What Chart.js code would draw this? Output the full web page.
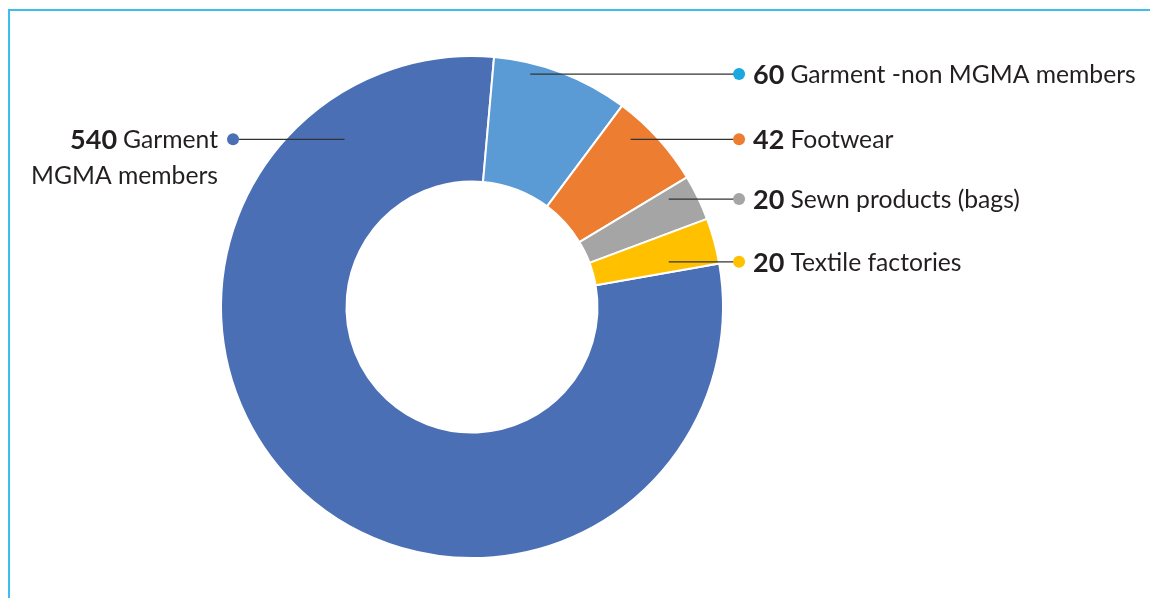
<!DOCTYPE html>
<html>
<head>
<meta charset="utf-8">
<script src="https://cdn.jsdelivr.net/npm/chart.js@4"></script>
<style>
  html, body { margin: 0; padding: 0; background: #fff; }
  #wrap { position: relative; width: 1150px; height: 598px; }
  #frame { position: absolute; left: 8px; top: 9px; right: 0; bottom: 0;
           border-left: 2px solid #3dbfee; border-top: 2px solid #3dbfee; }
  canvas { position: absolute; left: 0; top: 0; }
</style>
</head>
<body>
<div id="wrap">
  <div id="frame"></div>
  <canvas id="chart" width="1150" height="598"></canvas>
</div>
<script>
const categories = ['Garment MGMA members', 'Garment -non MGMA members', 'Footwear', 'Sewn products (bags)', 'Textile factories']
const counts = [540, 60, 42, 20, 20]
const sliceColors = ['#4a6fb5', '#5b9bd5', '#ed7d31', '#a5a5a5', '#ffc000']
const dotColors = ['#4a6fb5', '#1ba8e0', '#ed7d31', '#a5a5a5', '#ffc000']

// leader positions, in units of the outer radius from the centre
const leaders = [
  { y: -0.668, from: -0.508, dot: -0.952, side: 'left', lines: ['Garment', 'MGMA members'] },
  { y: -0.928, from: 0.232, dot: 1.064, side: 'right' },
  { y: -0.668, from: 0.632, dot: 1.064, side: 'right' },
  { y: -0.43, from: 0.784, dot: 1.064, side: 'right' },
  { y: -0.18, from: 0.784, dot: 1.064, side: 'right' }
]

const labelPlugin = {
  id: 'leaderLabels',
  afterDraw(chart) {
    const ctx = chart.ctx
    const meta = chart.getDatasetMeta(0)
    const boldFont = 'bold 27px Lato'
    const normFont = '24.7px Lato'
    meta.data.forEach((arc, i) => {
      const r = arc.outerRadius
      const L = leaders[i]
      const y = arc.y + L.y * r
      const x0 = arc.x + L.from * r
      const xd = arc.x + L.dot * r
      ctx.save()
      ctx.strokeStyle = '#333'
      ctx.lineWidth = 1.3
      ctx.beginPath()
      ctx.moveTo(x0, y)
      ctx.lineTo(xd, y)
      ctx.stroke()
      ctx.fillStyle = dotColors[i]
      ctx.beginPath()
      ctx.arc(xd, y, 6, 0, Math.PI * 2)
      ctx.fill()

      ctx.textBaseline = 'middle'
      ctx.fillStyle = '#231f20'
      const num = String(counts[i])
      if (L.side === 'right') {
        let tx = xd + 14
        ctx.font = boldFont
        ctx.textAlign = 'left'
        ctx.fillText(num, tx, y + 1)
        tx += ctx.measureText(num).width + 6
        ctx.font = normFont
        ctx.fillText(categories[i], tx, y + 1)
      } else {
        const right = xd - 15
        ctx.textAlign = 'right'
        ctx.font = normFont
        ctx.fillText(L.lines[0], right, y + 1)
        const w = ctx.measureText(L.lines[0]).width
        ctx.font = boldFont
        ctx.fillText(num, right - w - 6, y + 1)
        ctx.font = normFont
        ctx.fillText(L.lines[1], right, y + 37)
      }
      ctx.restore()
    })
  }
}

new Chart(document.getElementById('chart'), {
  type: 'doughnut',
  data: {
    labels: categories,
    datasets: [{
      data: counts,
      backgroundColor: sliceColors,
      borderColor: '#ffffff',
      borderWidth: 2
    }]
  },
  options: {
    responsive: false,
    animation: false,
    cutout: '50%',
    rotation: 80,
    layout: { padding: { left: 220, right: 426, top: 55, bottom: 39 } },
    plugins: {
      legend: { display: false },
      tooltip: { enabled: false }
    }
  },
  plugins: [labelPlugin]
})
</script>
</body>
</html>
